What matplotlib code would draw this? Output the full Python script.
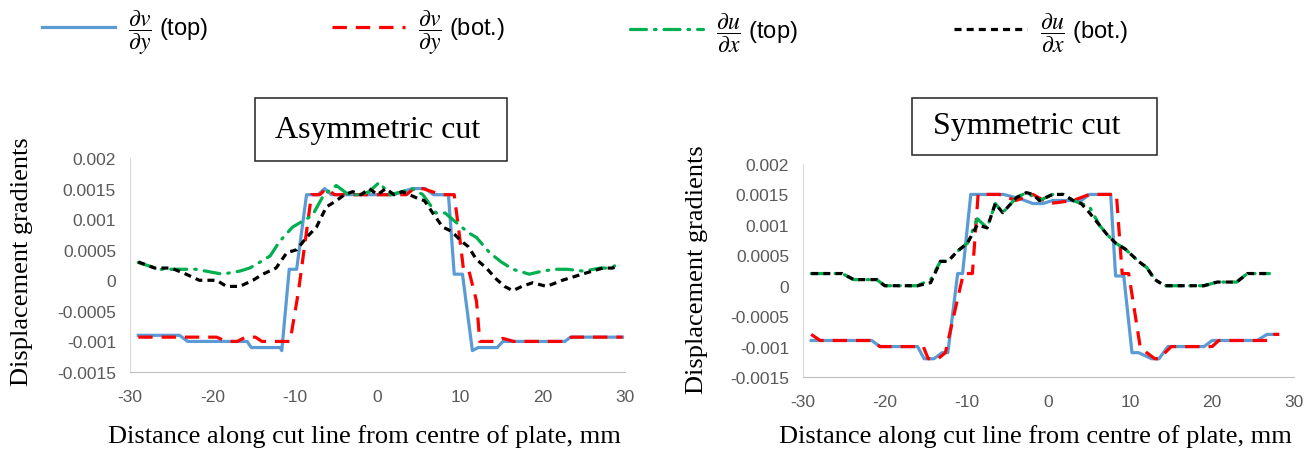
import matplotlib
matplotlib.use('Agg')
import matplotlib.pyplot as plt
from matplotlib.patches import Rectangle

plt.rcParams['mathtext.fontset'] = 'stix'
plt.rcParams['font.family'] = ['Liberation Sans', 'DejaVu Sans']
plt.rcParams['axes.unicode_minus'] = False

# ---- Asymmetric cut (left panel) ----
asym_top_v_x = [-29, -24, -23, -15.8, -15.3, -11.8, -11.6, -10.7, -9.8, -8.6, -7.2, -6.4, -5.6,
                -2, 2, 4.2, 5.8, 6.8, 8.6, 9.3, 10.3, 11.5, 12.2, 14.5, 15.2, 22.7, 23.4, 29.7]
asym_top_v = [-0.0009, -0.0009, -0.001, -0.001, -0.0011, -0.0011, -0.00115, 0.00018, 0.00018, 0.0014,
              0.0014, 0.0015, 0.0014, 0.0014, 0.0014, 0.0015, 0.0015, 0.0014, 0.0014, 0.0001, 0.0001,
              -0.00115, -0.0011, -0.0011, -0.001, -0.001, -0.00093, -0.00093]

asym_bot_v_x = [-29, -19.5, -18.3, -17, -16, -14.8, -14, -10.6, -9.6, -8.0, -7.0, -6.2, -5.2,
                0, 3.5, 4.4, 5.5, 7.7, 9.3, 10.0, 10.4, 11.0, 12.0, 12.4, 14.5, 15.2, 16.5, 17.5,
                22.8, 23.5, 29.7]
asym_bot_v = [-0.00093, -0.00093, -0.001, -0.001, -0.00093, -0.00093, -0.001, -0.001, -0.0002, 0.0014,
              0.0014, 0.0015, 0.0014, 0.0014, 0.0014, 0.0015, 0.0015, 0.0014, 0.0014, 0.00066, 0.0002,
              0.0002, -0.00034, -0.001, -0.001, -0.00095, -0.001, -0.001, -0.001, -0.00093, -0.00093]

asym_top_u_x = [-29, -26.4, -22, -18.8, -16.7, -15.5, -14.7, -13, -11.9, -10.3, -7.9, -6.5, -5, -3.5,
                -2, -1, 0.2, 1.5, 3, 4.2, 5.5, 7.1, 8.2, 9.5, 11.0, 12.0, 13.6, 15, 16.4, 18.4, 20,
                21.5, 23, 25, 27, 28.3, 29.3]
asym_top_u = [0.00029, 0.00018, 0.00018, 0.0001, 0.00015, 0.0002, 0.00026, 0.0004, 0.00063, 0.00087,
              0.00106, 0.0014, 0.00155, 0.0014, 0.0014, 0.00145, 0.0016, 0.0014, 0.00145, 0.0015,
              0.0014, 0.0011, 0.0011, 0.00095, 0.00078, 0.0007, 0.00045, 0.0003, 0.00018, 0.0001,
              0.00015, 0.00018, 0.00018, 0.00015, 0.0002, 0.0002, 0.00028]

asym_bot_u_x = [-29, -27, -25, -23.2, -21.6, -19.5, -18.3, -16.7, -15.1, -13.9, -12.3, -11, -9.8,
                -8.6, -7.4, -6.2, -5, -4, -3, -2, -1, 0, 1, 2, 3, 4.7, 5.7, 6.7, 7.9, 9, 10, 11, 12,
                13.2, 14.4, 15.4, 16.4, 17.5, 18.8, 20.5, 22.4, 24.8, 27.3, 28.5, 29.3]
asym_bot_u = [0.0003, 0.0002, 0.0002, 0.0001, 0.0, 0.0, -0.0001, -0.0001, 0.0, 0.0001, 0.0002,
              0.00045, 0.0005, 0.0007, 0.00087, 0.0012, 0.0013, 0.0014, 0.00145, 0.0014, 0.0015,
              0.0014, 0.0015, 0.0014, 0.00145, 0.00135, 0.0013, 0.0011, 0.00087, 0.0008, 0.00066,
              0.00055, 0.00034, 0.0002, 0.00002, -0.0001, -0.00017, -0.0001, -0.00004, -0.0001,
              0.0, 0.0001, 0.0002, 0.0002, 0.00025]

# ---- Symmetric cut (right panel) ----
sym_top_v_x = [-29, -21.6, -20.6, -16, -15.2, -14, -13, -12.3, -11.1, -10.5, -9.5, -5.5, -3.5, -1.9,
               -0.7, 0.5, 3, 4, 5, 7.6, 8.2, 9.2, 10.2, 11, 12.6, 13.5, 14.6, 19, 20, 25.5, 26.7, 28]
sym_top_v = [-0.0009, -0.0009, -0.001, -0.001, -0.0012, -0.0012, -0.0011, -0.0011, 0.0002, 0.0002,
             0.0015, 0.0015, 0.00143, 0.00135, 0.00135, 0.0014, 0.0014, 0.0014, 0.0015, 0.0015,
             0.00016, 0.00016, -0.0011, -0.0011, -0.0012, -0.0012, -0.001, -0.001, -0.0009,
             -0.0009, -0.0008, -0.0008]

sym_bot_v_x = [-29, -27.9, -21.6, -20.6, -15.3, -14.7, -13.5, -12.6, -10.4, -9.3, -8.6, -6, -4,
               -1.9, 0.1, 3, 5, 8.3, 9.0, 9.8, 11.2, 12, 13, 13.5, 15, 20, 20.8, 27, 27.6, 28.2]
sym_bot_v = [-0.0008, -0.0009, -0.0009, -0.001, -0.001, -0.0012, -0.0012, -0.0011, 0.0002, 0.0002,
             0.0015, 0.0015, 0.0014, 0.0015, 0.00135, 0.0014, 0.0015, 0.0015, 0.0002, 0.0002,
             -0.001, -0.0011, -0.0012, -0.0012, -0.001, -0.001, -0.0009, -0.0009, -0.0008, -0.0008]

sym_top_u_x = [-29, -25.2, -23.8, -21, -20, -16, -14.4, -13.2, -12.3, -11.1, -9.9, -8.7, -7.5, -6.5,
               -5.6, -3.9, -2.7, -1.1, 0.5, 1.8, 3, 4, 5, 6.2, 7.1, 8.2, 9.4, 11, 12, 13, 14.2, 19,
               20.6, 23, 24.3, 27]
sym_top_u = [0.0002, 0.0002, 0.0001, 0.0001, 0.0, 0.0, 0.0001, 0.0004, 0.0004, 0.00057, 0.0007,
             0.0011, 0.00095, 0.00135, 0.0012, 0.00145, 0.00153, 0.0014, 0.0015, 0.0015, 0.0014,
             0.00135, 0.0013, 0.001, 0.00085, 0.0007, 0.0006, 0.0004, 0.0003, 0.0001, 0.0, 0.0,
             0.00006, 0.00006, 0.0002, 0.0002]

sym_bot_u_x = [-29, -25.2, -23.8, -21, -20, -16, -14.4, -13.2, -12.3, -11.1, -9.9, -8.7, -7.5, -6.5,
               -5.6, -3.9, -2.7, -1.9, -1.1, 0.5, 1.8, 3, 4, 5, 6.2, 7.1, 8.2, 9.4, 11, 12, 13,
               14.2, 19, 20.6, 23, 24.3, 27]
sym_bot_u = [0.0002, 0.0002, 0.0001, 0.0001, 0.0, 0.0, 0.00005, 0.0004, 0.0004, 0.00057, 0.0007,
             0.001, 0.00095, 0.00135, 0.0012, 0.00145, 0.00153, 0.0015, 0.0014, 0.0015, 0.0015,
             0.0014, 0.00135, 0.0012, 0.001, 0.00085, 0.0007, 0.0006, 0.0004, 0.0003, 0.0001, 0.0,
             0.0, 0.00006, 0.00006, 0.0002, 0.0002]

x_ticks = [-30, -20, -10, 0, 10, 20, 30]
y_ticks = [-0.0015, -0.001, -0.0005, 0, 0.0005, 0.001, 0.0015, 0.002]
y_tick_labels = ['-0.0015', '-0.001', '-0.0005', '0', '0.0005', '0.001', '0.0015', '0.002']

labels = [r'$\dfrac{\partial v}{\partial y}$ (top)', r'$\dfrac{\partial v}{\partial y}$ (bot.)',
          r'$\dfrac{\partial u}{\partial x}$ (top)', r'$\dfrac{\partial u}{\partial x}$ (bot.)']
titles = ['Asymmetric cut', 'Symmetric cut']
x_label = 'Distance along cut line from centre of plate, mm'
y_label = 'Displacement gradients'

blue = '#5B9BD5'
red = '#FF0000'
green = '#00B050'
black = '#000000'

W, H = 1315, 452
fig = plt.figure(figsize=(W / 100, H / 100), dpi=100)
ax1 = fig.add_axes([130 / W, 1 - 373 / H, 495 / W, 214 / H])
ax2 = fig.add_axes([803 / W, 1 - 378 / H, 491 / W, 213 / H])


def draw(ax, data):
    (x1, y1), (x2, y2), (x3, y3), (x4, y4) = data
    h1, = ax.plot(x1, y1, color=blue, lw=2.3, solid_joinstyle='round')
    h2, = ax.plot(x2, y2, color=red, lw=2.3, dashes=(4.5, 2.8))
    h3, = ax.plot(x3, y3, color=green, lw=2.3, dashes=(5, 2.5, 0.5, 2.5), dash_capstyle='round')
    h4, = ax.plot(x4, y4, color=black, lw=2.3, dashes=(2.2, 1.6))
    ax.set_xlim(-30, 30)
    ax.set_ylim(-0.0015, 0.002)
    ax.set_xticks(x_ticks)
    ax.set_yticks(y_ticks)
    ax.set_yticklabels(y_tick_labels)
    ax.tick_params(length=0, labelsize=12.5, labelcolor='#595959')
    ax.tick_params(axis='x', pad=12)
    ax.tick_params(axis='y', pad=10)
    for s in ['top', 'right']:
        ax.spines[s].set_visible(False)
    ax.spines['left'].set_color('#D9D9D9')
    ax.spines['bottom'].set_color('#BFBFBF')
    return [h1, h2, h3, h4]


handles = draw(ax1, [(asym_top_v_x, asym_top_v), (asym_bot_v_x, asym_bot_v),
                     (asym_top_u_x, asym_top_u), (asym_bot_u_x, asym_bot_u)])
draw(ax2, [(sym_top_v_x, sym_top_v), (sym_bot_v_x, sym_bot_v),
           (sym_top_u_x, sym_top_u), (sym_bot_u_x, sym_bot_u)])

# title boxes
for (x0, y0, x1, y1), tx, ty, t in [((255, 99, 507, 162), 378, 131, titles[0]),
                                    ((912, 99, 1157, 156), 1027, 127, titles[1])]:
    fig.patches.append(Rectangle((x0 / W, 1 - y1 / H), (x1 - x0) / W, (y1 - y0) / H,
                                 transform=fig.transFigure, facecolor='white',
                                 edgecolor='#222222', lw=1.1))
    fig.text(tx / W, 1 - ty / H, t, ha='center', va='center',
             family='Liberation Serif', fontsize=23)

# axis labels
for xc in [364, 1035]:
    fig.text(xc / W, 1 - 437 / H, x_label, ha='center', va='center',
             family='Liberation Serif', fontsize=19)
for xc, yc in [(22, 262), (697, 270)]:
    fig.text(xc / W, 1 - yc / H, y_label, ha='center', va='center', rotation=90,
             family='Liberation Serif', fontsize=19)

# legend, one entry per slot across the top
for h, lab, x0 in zip(handles, labels, [42, 332, 630, 954]):
    fig.legend([h], [lab], loc='center left', bbox_to_anchor=(x0 / W, 1 - 33 / H),
               frameon=False, fontsize=17, handlelength=3.1, handletextpad=0.55,
               borderpad=0, borderaxespad=0)

fig.savefig('out.png', dpi=100)
